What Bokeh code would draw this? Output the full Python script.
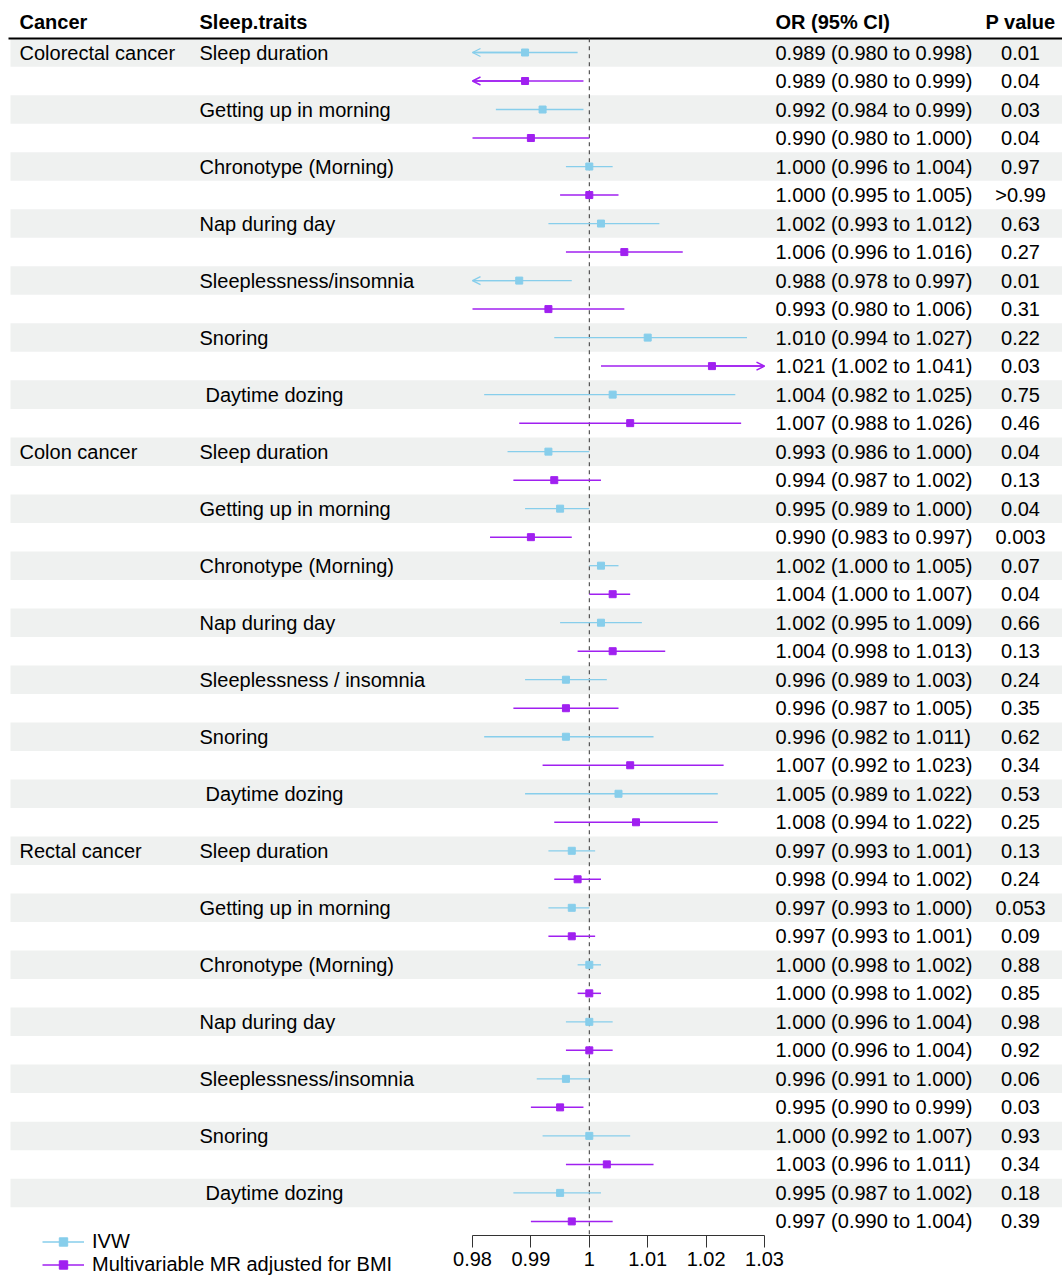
from bokeh.plotting import figure
from bokeh.models import (Range1d, LinearAxis, FixedTicker, ColumnDataSource, Arrow,
                          OpenHead, Legend, LegendItem)
from bokeh.embed import file_html
from bokeh.resources import INLINE
from bokeh.core.properties import value

# ---------------- data ----------------
cancers = ["Colorectal cancer", "Colon cancer", "Rectal cancer"]
traits = [
    "Sleep duration", "Getting up in morning", "Chronotype (Morning)", "Nap during day",
    "Sleeplessness/insomnia", "Snoring", " Daytime dozing",
    "Sleep duration", "Getting up in morning", "Chronotype (Morning)", "Nap during day",
    "Sleeplessness / insomnia", "Snoring", " Daytime dozing",
    "Sleep duration", "Getting up in morning", "Chronotype (Morning)", "Nap during day",
    "Sleeplessness/insomnia", "Snoring", " Daytime dozing",
]
methods = ["IVW", "Multivariable MR adjusted for BMI"]

ivw_or = [0.989, 0.992, 1.000, 1.002, 0.988, 1.010, 1.004,
          0.993, 0.995, 1.002, 1.002, 0.996, 0.996, 1.005,
          0.997, 0.997, 1.000, 1.000, 0.996, 1.000, 0.995]
ivw_lo = [0.9798, 0.984, 0.996, 0.993, 0.978, 0.994, 0.982,
          0.986, 0.989, 1.000, 0.995, 0.989, 0.982, 0.989,
          0.993, 0.993, 0.998, 0.996, 0.991, 0.992, 0.987]
ivw_hi = [0.998, 0.999, 1.004, 1.012, 0.997, 1.027, 1.025,
          1.000, 1.000, 1.005, 1.009, 1.003, 1.011, 1.022,
          1.001, 1.000, 1.002, 1.004, 1.000, 1.007, 1.002]
ivw_p = ["0.01", "0.03", "0.97", "0.63", "0.01", "0.22", "0.75",
         "0.04", "0.04", "0.07", "0.66", "0.24", "0.62", "0.53",
         "0.13", "0.053", "0.88", "0.98", "0.06", "0.93", "0.18"]

mv_or = [0.989, 0.990, 1.000, 1.006, 0.993, 1.021, 1.007,
         0.994, 0.990, 1.004, 1.004, 0.996, 1.007, 1.008,
         0.998, 0.997, 1.000, 1.000, 0.995, 1.003, 0.997]
mv_lo = [0.9798, 0.980, 0.995, 0.996, 0.980, 1.002, 0.988,
         0.987, 0.983, 1.000, 0.998, 0.987, 0.992, 0.994,
         0.994, 0.993, 0.998, 0.996, 0.990, 0.996, 0.990]
mv_hi = [0.999, 1.000, 1.005, 1.016, 1.006, 1.041, 1.026,
         1.002, 0.997, 1.007, 1.013, 1.005, 1.023, 1.022,
         1.002, 1.001, 1.002, 1.004, 0.999, 1.011, 1.004]
mv_p = ["0.04", "0.04", ">0.99", "0.27", "0.31", "0.03", "0.46",
        "0.13", "0.003", "0.04", "0.13", "0.35", "0.34", "0.25",
        "0.24", "0.09", "0.85", "0.92", "0.03", "0.34", "0.39"]

tick_values = [0.98, 0.99, 1.00, 1.01, 1.02, 1.03]
tick_labels = ["0.98", "0.99", "1", "1.01", "1.02", "1.03"]
headers = ["Cancer", "Sleep.traits", "OR (95% CI)", "P value"]

# ---------------- layout helpers ----------------
W, H = 1062, 1276
PX_PER_UNIT = 5840.0
X_REF = 472.0          # screen x of 0.98
ROW_H = 28.51


def xo(px):
    return 0.98 + (px - X_REF) / PX_PER_UNIT


def yr(py):
    return 1 + (py - 52) / ROW_H


XMIN, XMAX = tick_values[0], tick_values[-1]
FONT = value("Liberation Sans")
FS = "20px"
C_IVW = "#87CEEB"
C_MV = "#A020F0"
BAND = "#EFF1F0"

p = figure(width=W, height=H, output_backend="svg", toolbar_location=None,
           x_range=Range1d(xo(0), xo(W)), y_range=Range1d(yr(H), yr(0)),
           x_axis_location=None, y_axis_location=None, min_border=0,
           outline_line_color=None)
p.grid.visible = False
p.background_fill_color = "white"
p.border_fill_color = "white"

n = len(ivw_or)
nrows = 2 * n
rows_ivw = [2 * k + 1 for k in range(n)]
rows_mv = [2 * k + 2 for k in range(n)]

# bands
p.quad(left=xo(10), right=xo(W), bottom=[r + 0.5 for r in rows_ivw],
       top=[r - 0.5 for r in rows_ivw], fill_color=BAND, line_color=None)

# header line
p.segment(x0=xo(8), x1=xo(W), y0=yr(38), y1=yr(38), line_color="black", line_width=2)

# reference line
p.segment(x0=[1.0], x1=[1.0], y0=[0.5], y1=[nrows + 0.5], line_color="#333333",
          line_width=1, line_dash="4 4")


def draw(est, lo, hi, rows, color, lw, sq):
    x0 = [max(v, XMIN) for v in lo]
    x1 = [min(v, XMAX) for v in hi]
    seg = p.segment(x0=x0, x1=x1, y0=rows, y1=rows, line_color=color, line_width=lw)
    la = [(e, XMIN, r) for e, l, r in zip(est, lo, rows) if l < XMIN]
    ra = [(e, XMAX, r) for e, h, r in zip(est, hi, rows) if h > XMAX]
    arr = la + ra
    if arr:
        src = ColumnDataSource(dict(xs=[a[0] for a in arr], xe=[a[1] for a in arr],
                                    y=[a[2] for a in arr]))
        p.add_layout(Arrow(end=OpenHead(size=8, line_color=color, line_width=lw),
                           x_start="xs", x_end="xe", y_start="y", y_end="y",
                           line_color=color, line_width=lw, source=src))
    pts = p.scatter(x=est, y=rows, marker="square", size=sq, fill_color=color,
                    line_color=color)
    return seg, pts


ivw_seg, ivw_pts = draw(ivw_or, ivw_lo, ivw_hi, rows_ivw, C_IVW, 1.3, 7)
mv_seg, mv_pts = draw(mv_or, mv_lo, mv_hi, rows_mv, C_MV, 1.5, 7)

# texts
txt = dict(text_font=FONT, text_font_size=FS, text_baseline="middle", text_color="black")
cancer_rows = [1 + k * 14 for k in range(len(cancers))]
p.text(x=xo(19), y=cancer_rows, text=cancers, **txt)
trait_src = ColumnDataSource(dict(y=rows_ivw, t=traits,
                                  dx=[6 if t.startswith(" ") else 0 for t in traits]))
p.text(x=xo(199), y="y", text="t", x_offset="dx", source=trait_src, **txt)


def fmt(e, l, h):
    return f"{e:.3f} ({l:.3f} to {h:.3f})"


or_txt, p_txt, all_rows = [], [], []
for k in range(n):
    or_txt += [fmt(ivw_or[k], ivw_lo[k], ivw_hi[k]), fmt(mv_or[k], mv_lo[k], mv_hi[k])]
    p_txt += [ivw_p[k], mv_p[k]]
    all_rows += [rows_ivw[k], rows_mv[k]]
p.text(x=xo(775), y=all_rows, text=or_txt, **txt)
p.text(x=xo(1020), y=all_rows, text=p_txt, text_align="center", **txt)

# headers
hy = yr(21)
htxt = dict(txt, text_font_style="bold")
p.text(x=[xo(19), xo(199), xo(775)], y=[hy] * 3, text=headers[:3], **htxt)
p.text(x=[xo(1020)], y=[hy], text=[headers[3]], text_align="center", **htxt)

# axis
axis = LinearAxis(fixed_location=nrows + 0.5, bounds=(XMIN, XMAX),
                  ticker=FixedTicker(ticks=tick_values, minor_ticks=[]),
                  major_label_overrides={v: s for v, s in zip(tick_values, tick_labels)})
axis.axis_line_color = "#333333"
axis.major_tick_line_color = "#333333"
axis.major_tick_in = 0
axis.major_tick_out = 12
axis.minor_tick_line_color = None
axis.major_label_standoff = 4
axis.major_label_text_font = "Liberation Sans"
axis.major_label_text_font_size = FS
axis.major_label_text_color = "black"
p.add_layout(axis, "below")

# legend
legend = Legend(items=[LegendItem(label=methods[0], renderers=[ivw_seg, ivw_pts]),
                       LegendItem(label=methods[1], renderers=[mv_seg, mv_pts])],
                location=(42, 0), orientation="vertical", padding=0, margin=0,
                spacing=-2, glyph_width=42, glyph_height=21, label_height=21,
                label_standoff=8, label_text_font="Liberation Sans",
                label_text_font_size=FS, label_text_color="black",
                border_line_color=None, background_fill_alpha=0)
p.add_layout(legend, "center")

open("out.html", "w").write(file_html(p, INLINE))
